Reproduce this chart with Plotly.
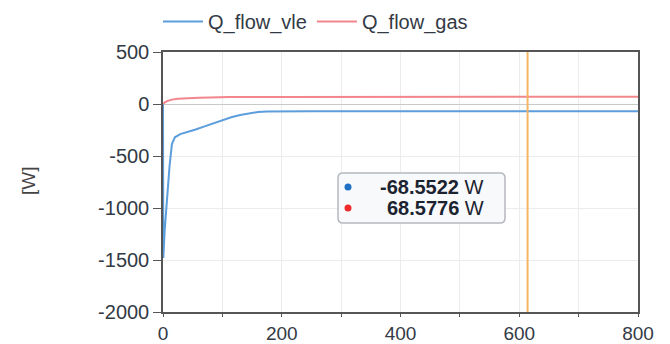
import plotly.graph_objects as go

# ---- data ----
t_vle = [0, 0.5, 3, 6, 8.6, 11, 15, 20, 29, 40, 55, 70, 85, 100, 115, 130, 145, 160, 175, 190, 210, 250, 400, 614, 800]
q_vle = [0, -1480, -1200, -950, -770, -600, -385, -320, -290, -272, -245, -215, -185, -155, -128, -105, -88, -77, -71, -69.2, -68.9, -68.7, -68.6, -68.5522, -68.55]
t_gas = [0, 3, 8, 15, 25, 40, 60, 80, 100, 110, 200, 400, 614, 800]
q_gas = [0, 15, 30, 42, 50, 56, 60, 63, 66, 68.3, 68.5, 68.56, 68.5776, 68.58]
series_names = ["Q_flow_vle", "Q_flow_gas"]
y_tickvals = [500, 0, -500, -1000, -1500, -2000]
y_ticktext = ["500", "0", "-500", "-1000", "-1500", "-2000"]
x_tickvals = [0, 200, 400, 600, 800]
x_ticktext = ["0", "200", "400", "600", "800"]
cursor_t = 614
cursor_vals = [-68.5522, 68.5776]
unit = "W"
y_title = "[W]"

BLUE = "#5c9ddc"
RED = "#f2868c"
ORANGE = "#f7b466"
FONT = "Liberation Sans, Arial, sans-serif"
TXT = "#333a45"

fig = go.Figure()
fig.add_trace(go.Scatter(x=t_vle, y=q_vle, mode="lines", name=series_names[0],
                         line=dict(color=BLUE, width=2)))
fig.add_trace(go.Scatter(x=t_gas, y=q_gas, mode="lines", name=series_names[1],
                         line=dict(color=RED, width=2)))

W, H = 670, 344
L, R, T, B = 163, 32, 52, 32
pw, ph = W - L - R, H - T - B

def px_x(x):
    return (x - L) / pw

def px_y(y):
    return (H - B - y) / ph

fig.update_layout(
    width=W, height=H,
    margin=dict(l=L, r=R, t=T, b=B, autoexpand=False),
    paper_bgcolor="white", plot_bgcolor="white",
    font=dict(family=FONT, size=20, color=TXT),
    showlegend=True,
    legend=dict(orientation="h", x=px_x(158), y=px_y(2), xanchor="left", yanchor="top",
                font=dict(size=20, color=TXT), itemwidth=40, bgcolor="rgba(0,0,0,0)",
                tracegroupgap=0),
    xaxis=dict(range=[0, 800], tickvals=x_tickvals, ticktext=x_ticktext, automargin=False,
               showgrid=True, gridcolor="#ececec",
               ticks="outside", ticklen=3, tickcolor="#555", showline=True, linecolor="#555",
               linewidth=1.5, mirror=True, zeroline=False,
               minor=dict(dtick=100, tick0=0, ticks="outside", ticklen=3, tickcolor="#555",
                          showgrid=True, gridcolor="#ececec"),
               tickfont=dict(size=19, color=TXT)),
    yaxis=dict(range=[-2000, 500], tickvals=y_tickvals, ticktext=y_ticktext, automargin=False,
               showgrid=True, gridcolor="#ececec",
               ticks="outside", ticklen=8, tickcolor="#555", showline=True, linecolor="#555",
               linewidth=1.5, mirror=True, zeroline=True, zerolinecolor="#c9c9c9",
               zerolinewidth=1, tickfont=dict(size=20, color=TXT)),
)

# cursor line
fig.add_shape(type="line", x0=cursor_t, x1=cursor_t, xref="x", y0=0, y1=1, yref="paper",
              line=dict(color=ORANGE, width=2))

# y title
fig.add_annotation(text=y_title, xref="paper", yref="paper", x=px_x(28), y=px_y(181),
                   showarrow=False, textangle=-90, font=dict(size=19, color="#444"),
                   xanchor="center", yanchor="middle")

# readout box (rounded rectangle)
bx0, bx1, by0, by1 = 338, 505, 173, 223
r = 5
X0, X1 = px_x(bx0), px_x(bx1)
Y0, Y1 = px_y(by1), px_y(by0)
rx, ry = r / pw, r / ph
path = (f"M {X0+rx},{Y0} L {X1-rx},{Y0} Q {X1},{Y0} {X1},{Y0+ry} "
        f"L {X1},{Y1-ry} Q {X1},{Y1} {X1-rx},{Y1} L {X0+rx},{Y1} Q {X0},{Y1} {X0},{Y1-ry} "
        f"L {X0},{Y0+ry} Q {X0},{Y0} {X0+rx},{Y0} Z")
fig.add_shape(type="path", path=path, xref="paper", yref="paper",
              line=dict(color="#b5b8be", width=1.5), fillcolor="rgba(248,249,251,0.97)")

dot_colors = ["#1f6fc4", "#ee2b2b"]
rows_y = [187, 208]
for val, cy, dc in zip(cursor_vals, rows_y, dot_colors):
    d = 3.5
    fig.add_shape(type="circle", xref="paper", yref="paper",
                  x0=px_x(348 - d), x1=px_x(348 + d), y0=px_y(cy + d), y1=px_y(cy - d),
                  fillcolor=dc, line=dict(width=0))
    fig.add_annotation(text=f"<b>{val:.4f}</b> {unit}", xref="paper", yref="paper",
                       x=px_x(486), y=px_y(cy), xanchor="right", yanchor="middle",
                       showarrow=False, align="right", font=dict(size=20, color="#1c2330"))

fig.write_html("out.html", config={"displayModeBar": False},
               post_script="document.body.style.margin='0';document.body.style.overflow='hidden';")
